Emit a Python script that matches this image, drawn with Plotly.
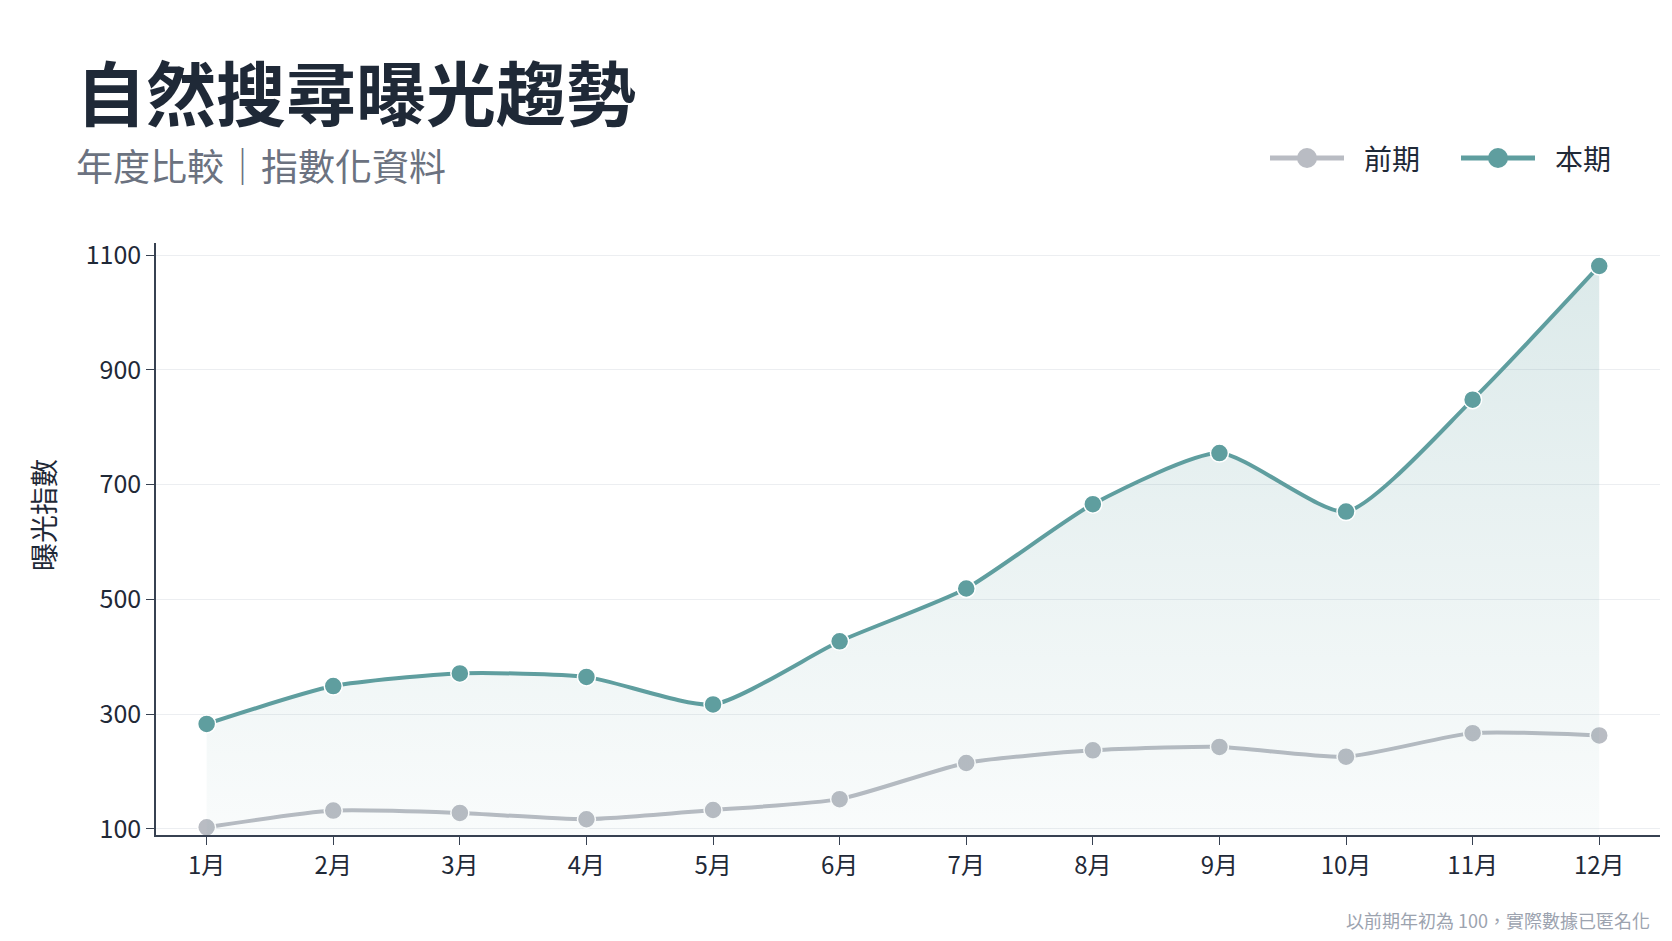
import plotly.graph_objects as go

# data (index, prior year Jan = 100)
months = ["1月", "2月", "3月", "4月", "5月", "6月", "7月", "8月", "9月", "10月", "11月", "12月"]
previous = [103, 132, 128, 117, 133, 152, 215, 237, 243, 226, 267, 263]
current = [283, 349, 371, 365, 317, 427, 519, 666, 755, 653, 848, 1081]
y_ticks = [100, 300, 500, 700, 900, 1100]
series_names = ["前期", "本期"]

TEAL = "#5f9e9f"
GREY = "#b9bcc3"
DARK = "#1f2937"
FONT = "Noto Sans CJK TC, Noto Sans, sans-serif"

W, H = 1672, 941
L, R, T, B = 148, 20, 235, 114


def px(x, y):
    # page pixels -> paper coords
    return (x - L) / (W - L - R), (H - B - y) / (H - T - B)


x_idx = list(range(len(months)))

fig = go.Figure()

fig.add_trace(go.Scatter(
    x=x_idx, y=previous, name=series_names[0],
    mode="lines+markers",
    line=dict(color=GREY, width=4, shape="spline", smoothing=0.6),
    marker=dict(size=18, color=GREY, line=dict(color="white", width=1.5)),
))

fig.add_trace(go.Scatter(
    x=x_idx, y=current, name=series_names[1],
    mode="lines+markers",
    fill="tozeroy",
    fillgradient=dict(type="vertical",
                      colorscale=[[0, "rgba(95,158,159,0.02)"], [1, "rgba(95,158,159,0.22)"]]),
    line=dict(color=TEAL, width=4, shape="spline", smoothing=0.6),
    marker=dict(size=18, color=TEAL, line=dict(color="white", width=1.5)),
))

# hand-drawn legend (longer line symbols than plotly's own)
shapes = []
annotations = []
for name, color, x_line in [(series_names[0], GREY, 1262), (series_names[1], TEAL, 1453)]:
    x0, y0 = px(x_line, 150)
    x1, _ = px(x_line + 74, 150)
    shapes.append(dict(type="line", xref="paper", yref="paper", x0=x0, x1=x1, y0=y0, y1=y0,
                       line=dict(color=color, width=5)))
    cx0, cy0 = px(x_line + 37 - 10, 160)
    cx1, cy1 = px(x_line + 37 + 10, 140)
    shapes.append(dict(type="circle", xref="paper", yref="paper", x0=cx0, x1=cx1, y0=cy0, y1=cy1,
                       fillcolor=color, line=dict(color=color, width=0)))
    tx_, ty_ = px(x_line + 92, 150)
    annotations.append(dict(text=name, x=tx_, y=ty_, xref="paper", yref="paper",
                            xanchor="left", yanchor="middle", showarrow=False,
                            font=dict(size=28, color=DARK)))

tx, ty = px(66, 83)
sx, sy = px(66, 157)
fx, fy = px(1644, 912)
ax_, ay_ = px(35, 507)

annotations += [
    dict(text="<b>自然搜尋曝光趨勢</b>", x=tx, y=ty, xref="paper", yref="paper",
         xanchor="left", yanchor="middle", showarrow=False,
         font=dict(size=70, color=DARK)),
    dict(text="年度比較｜指數化資料", x=sx, y=sy, xref="paper", yref="paper",
         xanchor="left", yanchor="middle", showarrow=False,
         font=dict(size=37, color="#6b7280")),
    dict(text="曝光指數", x=ax_, y=ay_, xref="paper", yref="paper",
         xanchor="center", yanchor="middle", showarrow=False, textangle=-90,
         font=dict(size=28, color=DARK)),
    dict(text="以前期年初為 100，實際數據已匿名化", x=fx, y=fy, xref="paper", yref="paper",
         xanchor="right", yanchor="middle", showarrow=False,
         font=dict(size=18, color="#9ca3af")),
]

fig.update_layout(
    width=W, height=H,
    paper_bgcolor="white", plot_bgcolor="white",
    margin=dict(l=L, r=R, t=T, b=B),
    font=dict(family=FONT, color=DARK, size=24),
    showlegend=False,
    xaxis=dict(
        tickvals=x_idx, ticktext=months, range=[-0.4, 11.48],
        showgrid=False, zeroline=False,
        showline=True, linecolor="#374151", linewidth=1.5,
        ticks="outside", ticklen=8, tickcolor="#374151", tickwidth=1.2,
        tickfont=dict(size=24, color=DARK),
    ),
    yaxis=dict(
        tickvals=y_ticks, range=[89.5, 1121],
        showgrid=True, gridcolor="#eceef1", gridwidth=1, zeroline=False,
        showline=True, linecolor="#374151", linewidth=1.5,
        ticks="outside", ticklen=8, tickcolor="#374151", tickwidth=1.2,
        tickfont=dict(size=25, color=DARK),
    ),
    shapes=shapes,
    annotations=annotations,
)

fig.write_html("out.html")
